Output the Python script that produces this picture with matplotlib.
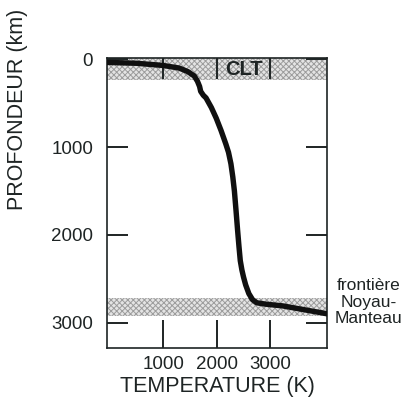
import matplotlib.pyplot as plt

plt.rcParams['font.family'] = ['Liberation Sans', 'DejaVu Sans']
plt.rcParams['hatch.linewidth'] = 0.7

# profil de temperature (K) en fonction de la profondeur (km)
temperature = [-50, 500, 1000, 1300, 1460, 1580, 1640, 1680, 1700, 1750, 1800, 1900,
               1990, 2080, 2170, 2220, 2265, 2300, 2330, 2360, 2390, 2415, 2440,
               2470, 2500, 2540, 2600, 2670, 2750, 2910, 3230, 3600, 4060]
profondeur = [35, 45, 70, 100, 140, 190, 250, 310, 365, 410, 440, 550,
              670, 810, 965, 1060, 1190, 1340, 1500, 1720, 1950, 2130, 2295,
              2400, 2480, 2570, 2670, 2740, 2775, 2790, 2810, 2850, 2900]

x_ticks = [1000, 2000, 3000]
y_ticks = [0, 1000, 2000, 3000]
bande_clt = (-30, 240)
bande_cmb = (2720, 2920)

fig = plt.figure(figsize=(4.08, 4.03), dpi=100)
ax = fig.add_axes([107 / 408, 55 / 403, 220 / 408, 290 / 403])

ink = '#1e2424'

# bandes hachurees (pointillé gris)
for lo, hi in (bande_clt, bande_cmb):
    ax.axhspan(lo, hi, facecolor='#e4e4e4', edgecolor='#9c9c9c', hatch='xxxxxx', lw=0)

ax.plot(temperature, profondeur, color='#101010', lw=3.9, solid_capstyle='round',
        solid_joinstyle='round', zorder=3)

ax.set_xlim(-50, 4060)
ax.set_ylim(3290, -15)

ax.set_xticks(x_ticks)
ax.set_yticks(y_ticks)
ax.tick_params(axis='x', which='both', direction='in', length=20, width=1.4, color=ink,
               top=True, labelsize=13.5, labelcolor=ink, pad=6)
ax.tick_params(axis='y', which='both', direction='in', length=15, width=1.4, color=ink,
               right=True, labelsize=13.5, labelcolor=ink, pad=10)
for t in ax.xaxis.get_major_ticks():
    t.tick2line.set_markersize(15)

for s in ax.spines.values():
    s.set_color(ink)
    s.set_linewidth(1.2)

ax.text(2500, 115, 'CLT', ha='center', va='center', fontsize=14.5, fontweight='bold',
        color=ink, zorder=4)

ax.set_xlabel('TEMPERATURE (K)', fontsize=15.5, color=ink, labelpad=2)
fig.text(18 / 408, 1 - 109 / 403, 'PROFONDEUR (km)', rotation=90, ha='center', va='center',
         fontsize=15.5, color=ink)

fig.text(369 / 408, 1 - 302 / 403, 'frontière\nNoyau-\nManteau', ha='center', va='center',
         fontsize=12.5, color=ink, linespacing=1.15)

fig.savefig('out.png', dpi=100)
